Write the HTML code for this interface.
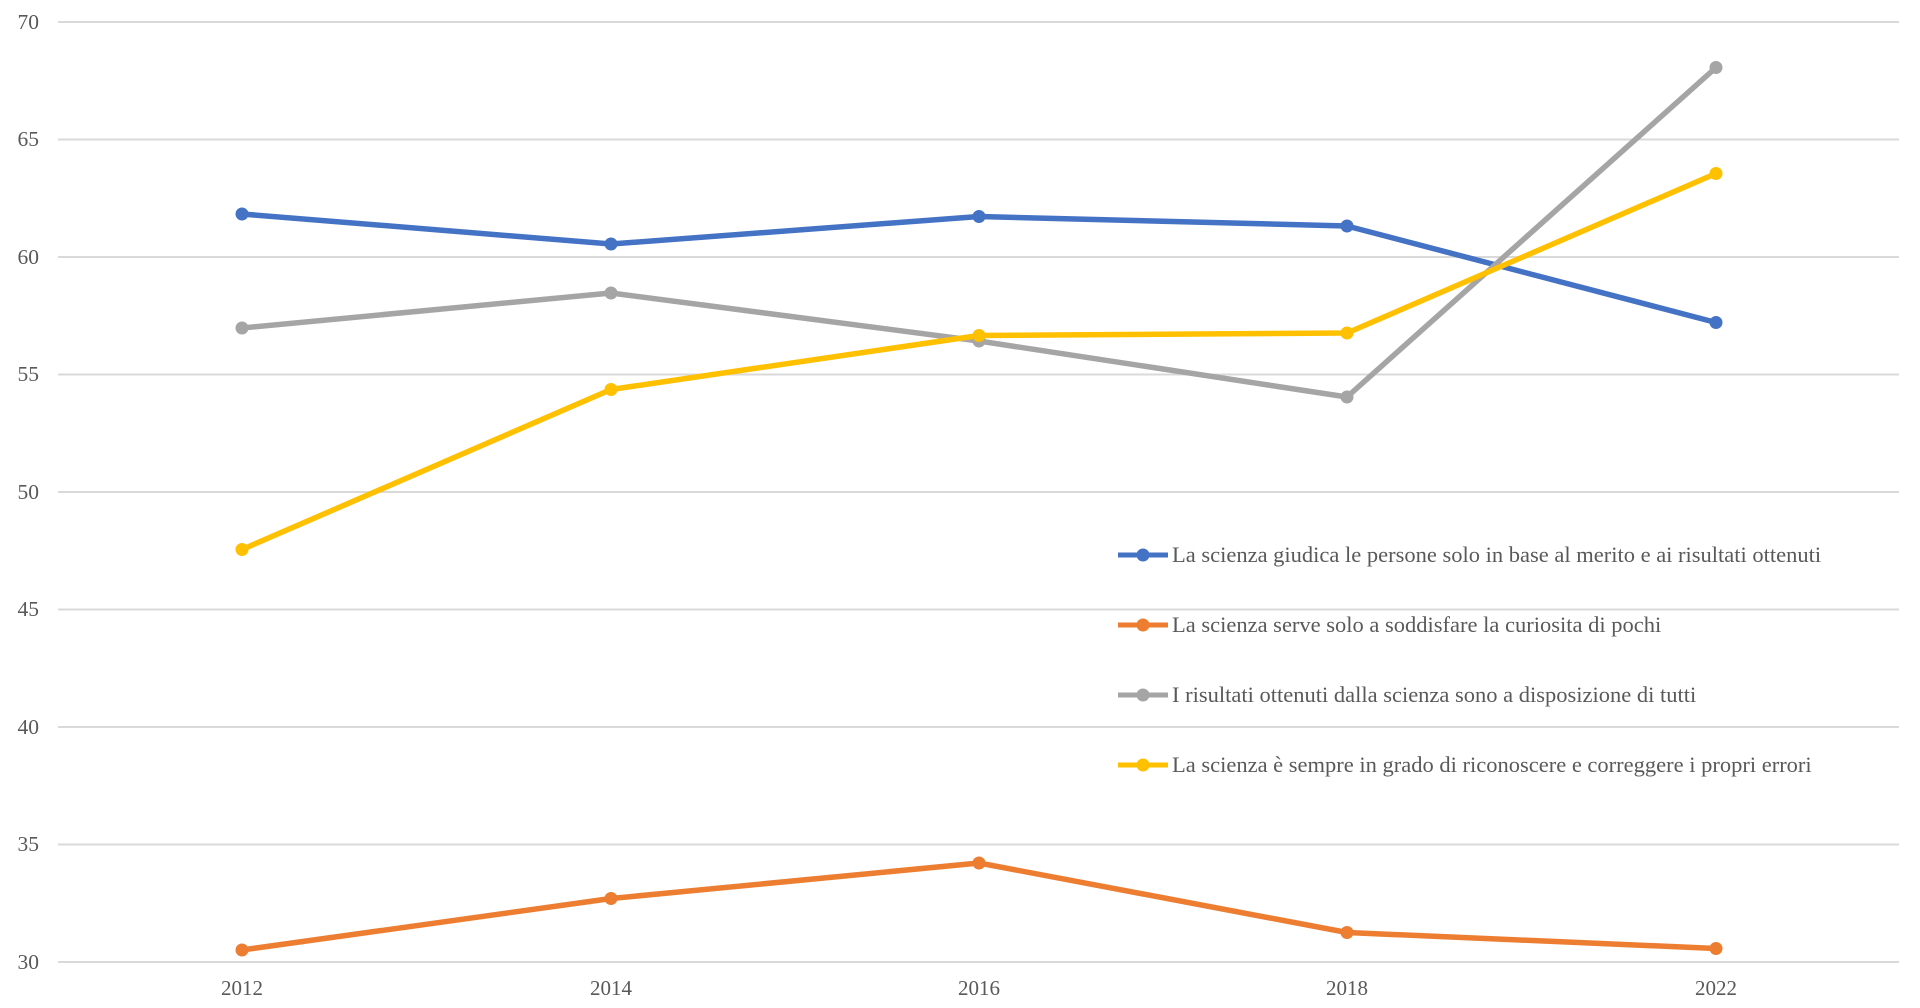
<!DOCTYPE html>
<html><head><meta charset="utf-8"><style>body{margin:0;background:#fff}svg{display:block}text{font-family:"Liberation Serif",serif;fill:#595959}</style></head>
<body>
<svg width="1920" height="1008" viewBox="0 0 1920 1008">
<g stroke="#d9d9d9" stroke-width="2">
<line x1="58" x2="1899" y1="22" y2="22"/><line x1="58" x2="1899" y1="139.5" y2="139.5"/><line x1="58" x2="1899" y1="257" y2="257"/><line x1="58" x2="1899" y1="374.5" y2="374.5"/><line x1="58" x2="1899" y1="492" y2="492"/><line x1="58" x2="1899" y1="609.5" y2="609.5"/><line x1="58" x2="1899" y1="727" y2="727"/><line x1="58" x2="1899" y1="844.5" y2="844.5"/><line x1="58" x2="1899" y1="962" y2="962"/>
</g>
<g font-size="21.5" text-anchor="end">
<text x="39" y="29">70</text><text x="39" y="146">65</text><text x="39" y="264">60</text><text x="39" y="381">55</text><text x="39" y="499">50</text><text x="39" y="616">45</text><text x="39" y="734">40</text><text x="39" y="851">35</text><text x="39" y="969">30</text>
</g>
<g font-size="21" text-anchor="middle">
<text x="242" y="995">2012</text><text x="611" y="995">2014</text><text x="979" y="995">2016</text><text x="1347" y="995">2018</text><text x="1716" y="995">2022</text>
</g>
<g fill="none" stroke-width="5.5" stroke-linejoin="round">
<polyline stroke="#4472c4" points="242,214 611,244 979,216.5 1347,226 1716,322.5"/>
<polyline stroke="#ed7d31" points="242,950 611,898.5 979,863 1347,932.5 1716,948.5"/>
<polyline stroke="#a5a5a5" points="242,328 611,293 979,341 1347,397 1716,67.5"/>
<polyline stroke="#ffc000" points="242,549.5 611,389.5 979,335.5 1347,333 1716,173.5"/>
</g>
<g fill="#4472c4"><circle cx="242" cy="214" r="6.5"/><circle cx="611" cy="244" r="6.5"/><circle cx="979" cy="216.5" r="6.5"/><circle cx="1347" cy="226" r="6.5"/><circle cx="1716" cy="322.5" r="6.5"/></g>
<g fill="#ed7d31"><circle cx="242" cy="950" r="6.5"/><circle cx="611" cy="898.5" r="6.5"/><circle cx="979" cy="863" r="6.5"/><circle cx="1347" cy="932.5" r="6.5"/><circle cx="1716" cy="948.5" r="6.5"/></g>
<g fill="#a5a5a5"><circle cx="242" cy="328" r="6.5"/><circle cx="611" cy="293" r="6.5"/><circle cx="979" cy="341" r="6.5"/><circle cx="1347" cy="397" r="6.5"/><circle cx="1716" cy="67.5" r="6.5"/></g>
<g fill="#ffc000"><circle cx="242" cy="549.5" r="6.5"/><circle cx="611" cy="389.5" r="6.5"/><circle cx="979" cy="335.5" r="6.5"/><circle cx="1347" cy="333" r="6.5"/><circle cx="1716" cy="173.5" r="6.5"/></g>
<g stroke-width="5">
<line x1="1118" x2="1168" y1="555" y2="555" stroke="#4472c4"/><circle cx="1143" cy="555" r="6.5" fill="#4472c4"/>
<line x1="1118" x2="1168" y1="625" y2="625" stroke="#ed7d31"/><circle cx="1143" cy="625" r="6.5" fill="#ed7d31"/>
<line x1="1118" x2="1168" y1="695" y2="695" stroke="#a5a5a5"/><circle cx="1143" cy="695" r="6.5" fill="#a5a5a5"/>
<line x1="1118" x2="1168" y1="765" y2="765" stroke="#ffc000"/><circle cx="1143" cy="765" r="6.5" fill="#ffc000"/>
</g>
<g font-size="22.5">
<text x="1172" y="562">La scienza giudica le persone solo in base al merito e ai risultati ottenuti</text>
<text x="1172" y="632">La scienza serve solo a soddisfare la curiosita  di pochi</text>
<text x="1172" y="702">I risultati ottenuti dalla scienza sono a disposizione di tutti</text>
<text x="1172" y="772">La scienza è sempre in grado di riconoscere e correggere i propri errori</text>
</g>
</svg>
</body></html>
